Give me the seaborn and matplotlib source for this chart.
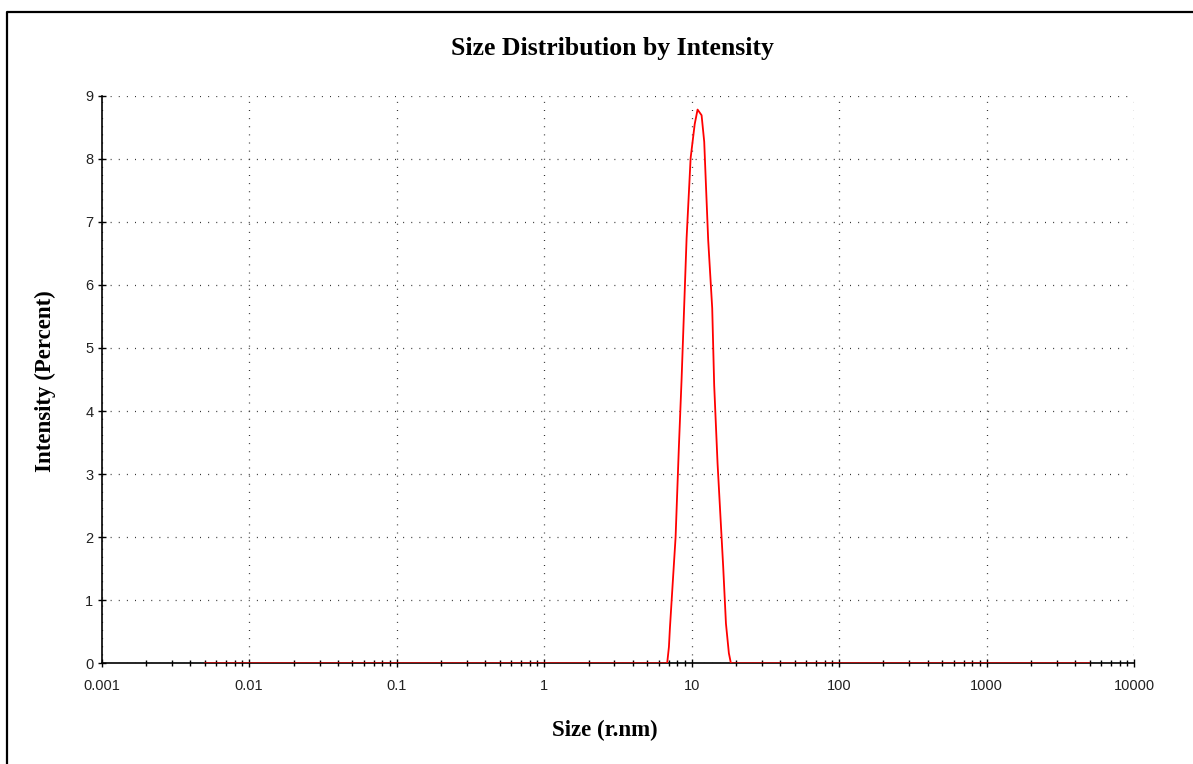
import numpy as np
import pandas as pd
import matplotlib
matplotlib.use("Agg")
import matplotlib.pyplot as plt
from matplotlib.ticker import LogLocator, FixedLocator, FixedFormatter, MultipleLocator, NullFormatter
from matplotlib.lines import Line2D
import seaborn as sns

# ---- data ----
size_nm = [0.005, 6.83, 7.02, 7.13, 7.79, 8.20, 8.55, 9.25, 9.85, 10.5, 10.98,
           11.69, 12.18, 12.5, 12.96, 13.8, 14.23, 15.0, 16.38, 17.1, 17.9, 18.48, 5000]
intensity = [0.0, 0.0, 0.26, 0.56, 2.0, 3.43, 4.49, 6.74, 8.01, 8.55, 8.78,
             8.69, 8.27, 7.61, 6.71, 5.63, 4.41, 3.17, 1.53, 0.63, 0.16, 0.0, 0.0]
x_ticks = [0.001, 0.01, 0.1, 1, 10, 100, 1000, 10000]
x_tick_labels = ["0.001", "0.01", "0.1", "1", "10", "100", "1000", "10000"]
y_ticks = [0, 1, 2, 3, 4, 5, 6, 7, 8, 9]

df = pd.DataFrame({"Size (r.nm)": size_nm, "Intensity (Percent)": intensity})

sns.set_theme(style="white")
plt.rcParams['font.family'] = ['Liberation Sans', 'DejaVu Sans']
plt.rcParams['text.color'] = 'black'

fig = plt.figure(figsize=(11.93, 7.64), dpi=100)
ax = fig.add_axes([101.7 / 1193, 100.7 / 764, (1134 - 101.7) / 1193, (663.3 - 95.7) / 764])

sns.lineplot(data=df, x="Size (r.nm)", y="Intensity (Percent)", ax=ax,
             color="#ff0000", linewidth=1.3, sort=True, zorder=5)

ax.set_xscale("log")
ax.set_xlim(0.001, 10000)
ax.set_ylim(0, 9)

ax.xaxis.set_major_locator(FixedLocator(x_ticks))
ax.xaxis.set_major_formatter(FixedFormatter(x_tick_labels))
ax.xaxis.set_minor_locator(LogLocator(base=10, subs=np.arange(2, 10), numticks=20))
ax.xaxis.set_minor_formatter(NullFormatter())
ax.yaxis.set_major_locator(FixedLocator(y_ticks))
ax.yaxis.set_minor_locator(MultipleLocator(0.5))

ax.tick_params(axis="both", which="major", direction="inout", length=6, width=1,
               color="black", labelsize=10.5, labelcolor="#222222", pad=4)
ax.tick_params(axis="both", which="minor", direction="inout", length=5, width=1, color="black")
ax.tick_params(axis="x", which="major", pad=8)
ax.tick_params(axis="y", which="major", left=True, pad=3)
ax.tick_params(axis="x", which="both", bottom=True)

for s in ["top", "right"]:
    ax.spines[s].set_visible(False)
for s in ["left", "bottom"]:
    ax.spines[s].set_color("black")
    ax.spines[s].set_linewidth(1.2)

ax.grid(True, which="major", color="#333333", linestyle=(0, (0.8, 5.7)), linewidth=0.9)
ax.set_axisbelow(True)

ax.set_xlabel("")
ax.set_ylabel("")

fig.text(612 / 1193, 1 - 49 / 764, "Size Distribution by Intensity", ha="center", va="center",
         fontsize=18.5, fontweight="bold", family="Liberation Serif", color="black")
fig.text(605 / 1193, 1 - 730 / 764, "Size (r.nm)", ha="center", va="center",
         fontsize=16.5, fontweight="bold", family="Liberation Serif", color="black")
fig.text(45 / 1193, 1 - 381 / 764, "Intensity (Percent)", ha="center", va="center",
         rotation=90, fontsize=16.5, fontweight="bold", family="Liberation Serif", color="black")

# outer frame (left and top edges visible)
fig.add_artist(Line2D([7 / 1193, 7 / 1193, 1.0], [0.0, 1 - 12.3 / 764, 1 - 12.3 / 764],
                      transform=fig.transFigure, color="black", linewidth=1.6))

fig.savefig("out.png", dpi=100)
